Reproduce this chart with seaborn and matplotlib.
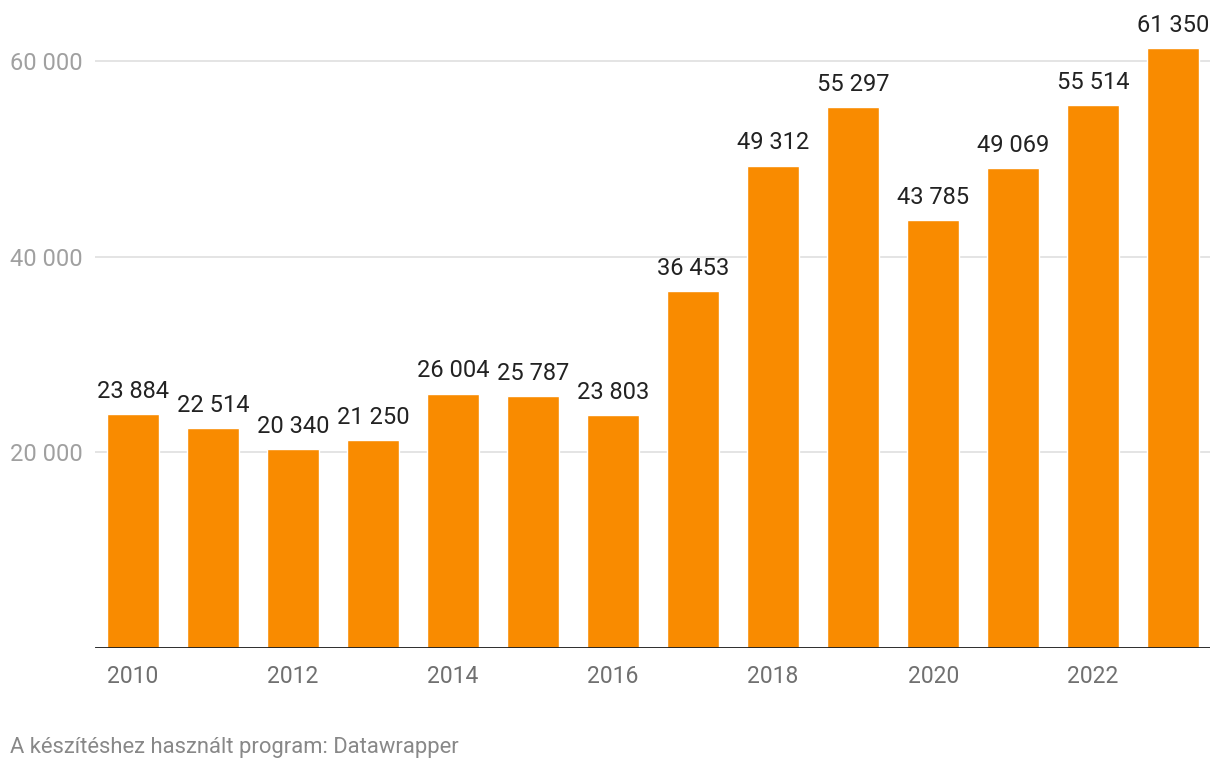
import numpy as np
import pandas as pd
import matplotlib
matplotlib.use("Agg")
import matplotlib.pyplot as plt
import seaborn as sns

# ── Adatok ──
years = [str(y) for y in range(2010, 2024)]
values = [23884, 22514, 20340, 21250, 26004, 25787, 23803,
          36453, 49312, 55297, 43785, 49069, 55514, 61350]
y_ticks = [20000, 40000, 60000]
footer = "A készítéshez használt program: Datawrapper"

sns.set_style("white")
plt.rcParams['font.family'] = ['Roboto', 'DejaVu Sans']

df = pd.DataFrame({'ev': years, 'ertek': values})

fig = plt.figure(figsize=(12.2, 7.7), dpi=100)
ax = fig.add_axes([95 / 1220, 122 / 770, (1210 - 95) / 1220, 648 / 770])

sns.barplot(data=df, x='ev', y='ertek', order=years, color='#f98b00',
            saturation=1, width=0.65, ax=ax, zorder=3)

ax.set_xlim(-0.475, 13.46)
ax.set_ylim(0, 66235)

# rács és alapvonal
ax.set_yticks(y_ticks)
ax.set_yticklabels([f"{v:,}".replace(",", " ") for v in y_ticks],
                   color='#a0a0a0', fontsize=17)
ax.yaxis.grid(True, color='#e2e2e2', linewidth=1.3, zorder=0)
ax.axhline(0, color='#1a1a1a', linewidth=2.0, zorder=4)
for s in ax.spines.values():
    s.set_visible(False)

ax.set_xticks(range(0, len(years), 2))
ax.set_xticklabels(years[::2], color='#707070', fontsize=16.5)
ax.tick_params(axis='x', length=0, pad=12)
ax.tick_params(axis='y', length=0, pad=9)
ax.set_xlabel('')
ax.set_ylabel('')

# értékcímkék
ax.bar_label(ax.containers[0],
             labels=[f"{v:,}".replace(",", " ") for v in values],
             padding=8, fontsize=17, color='#222222')

fig.text(10 / 1220, 1 - 747 / 770, footer, fontsize=15.8, color='#888888',
         ha='left', va='center')

fig.savefig('out.png', dpi=100)
